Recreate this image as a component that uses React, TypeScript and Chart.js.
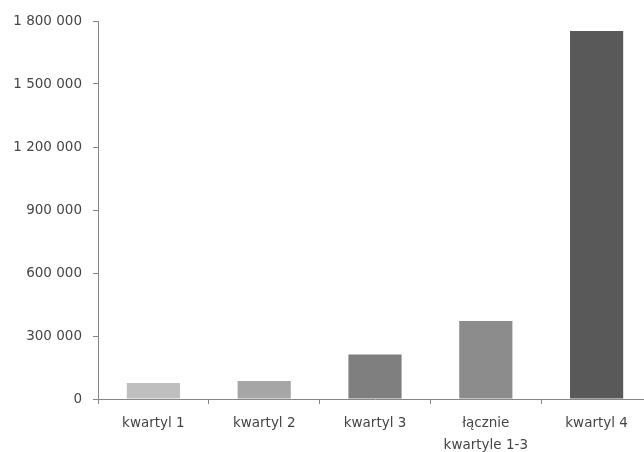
import React, { useEffect, useRef } from "react";
import { Chart, registerables } from "chart.js";

Chart.register(...registerables);

const categories: (string | string[])[] = ["kwartyl 1", "kwartyl 2", "kwartyl 3", ["łącznie", "kwartyle 1-3"], "kwartyl 4"];
const values: number[] = [76000, 86000, 212000, 371000, 1752000];
const barColors: string[] = ["#bfbfbf", "#a6a6a6", "#7f7f7f", "#8c8c8c", "#595959"];
const yTicks: number[] = [0, 300000, 600000, 900000, 1200000, 1500000, 1800000];

function fmt(v: number): string {
  return String(Math.round(v)).replace(/\B(?=(\d{3})+(?!\d))/g, " ");
}

export default function App() {
  const ref = useRef<HTMLCanvasElement | null>(null);
  useEffect(() => {
    document.body.style.margin = "0";
    const ctx = ref.current!;
    const chart = new Chart(ctx, {
      type: "bar",
      data: {
        labels: categories,
        datasets: [
          {
            data: values,
            backgroundColor: barColors,
            borderWidth: 0,
            categoryPercentage: 1,
            barPercentage: 0.48,
          },
        ],
      },
      options: {
        animation: false,
        responsive: false,
        maintainAspectRatio: false,
        layout: { padding: { top: 21, right: 8, left: 0, bottom: 0 } },
        plugins: { legend: { display: false }, tooltip: { enabled: false } },
        scales: {
          x: {
            offset: true,
            grid: { display: true, drawOnChartArea: false, offset: true, tickLength: 5, color: "#868686" },
            border: { display: true, color: "#868686", width: 1 },
            ticks: { color: "#454545", font: { family: "DejaVu Sans", size: 13.5, lineHeight: 1.6 }, padding: 9, maxRotation: 0, autoSkip: false },
            afterFit: (s: any) => { s.height = 53; },
          },
          y: {
            min: 0,
            max: 1800000,
            afterBuildTicks: (s: any) => { s.ticks = yTicks.map((v) => ({ value: v })); },
            grid: { display: true, drawOnChartArea: false, tickLength: 5, color: "#868686" },
            border: { display: true, color: "#868686", width: 1 },
            ticks: { color: "#454545", font: { family: "DejaVu Sans", size: 13.5 }, padding: 11, callback: (v: any) => fmt(Number(v)) },
            afterFit: (s: any) => { s.width = 98; },
          },
        },
      },
    });
    return () => chart.destroy();
  }, []);
  return (
    <div style={{ width: 644, height: 452, overflow: "hidden", background: "#fff" }}>
      <canvas ref={ref} width={660} height={452} style={{ width: 660, height: 452, display: "block" }} />
    </div>
  );
}
